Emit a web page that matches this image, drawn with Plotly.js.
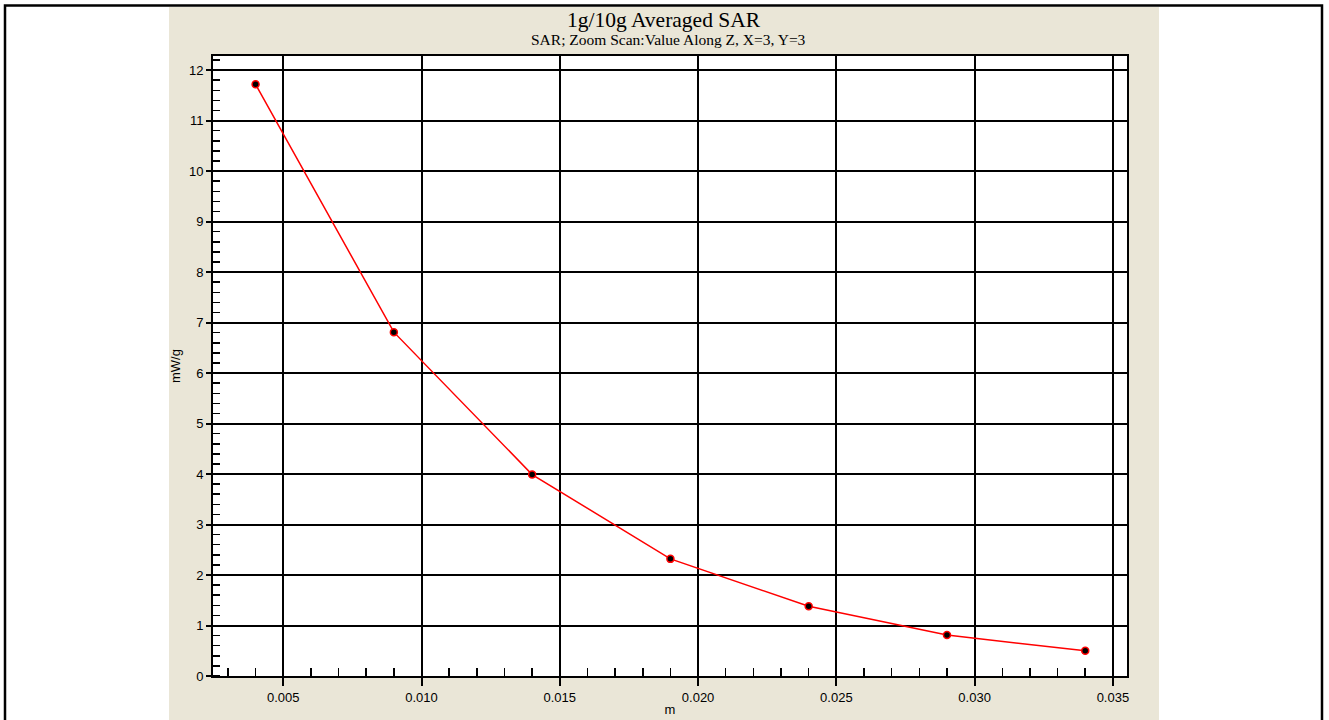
<!DOCTYPE html>
<html>
<head>
<meta charset="utf-8">
<script src="https://cdn.plot.ly/plotly-3.0.1.min.js"></script>
<style>html,body{margin:0;padding:0;background:#fff;}#chart{width:1329px;height:720px;}</style>
</head>
<body>
<div id="chart"></div>
<script>
const depth = [0.004, 0.009, 0.014, 0.019, 0.024, 0.029, 0.034];
const sar = [11.72, 6.81, 3.99, 2.32, 1.38, 0.81, 0.50];
const xTickVals = [0.005, 0.010, 0.015, 0.020, 0.025, 0.030, 0.035];
const xTickText = ['0.005', '0.010', '0.015', '0.020', '0.025', '0.030', '0.035'];
const yTickVals = [0, 1, 2, 3, 4, 5, 6, 7, 8, 9, 10, 11, 12];
const chartTitle = '1g/10g Averaged SAR';
const chartSubtitle = 'SAR; Zoom Scan:Value Along Z, X=3, Y=3';
const xLabel = 'm';
const yLabel = 'mW/g';

const trace = {
  x: depth, y: sar, type: 'scatter', mode: 'lines+markers',
  line: {color: '#ff0000', width: 1.5},
  marker: {color: '#000000', size: 7, line: {color: '#ff0000', width: 1.5}},
  hoverinfo: 'skip', showlegend: false
};

const tickFont = {family: 'Liberation Sans, Arial, sans-serif', size: 13, color: '#000'};
const serif = 'Liberation Serif, Times New Roman, serif';

const layout = {
  width: 1329, height: 720,
  margin: {l: 213, r: 202, t: 56, b: 44},
  paper_bgcolor: '#eae6d7', plot_bgcolor: '#ffffff',
  xaxis: {
    range: [0.00246, 0.03551],
    tickvals: xTickVals, ticktext: xTickText,
    ticks: 'outside', ticklen: 8, tickwidth: 2, tickcolor: '#000',
    showgrid: true, gridcolor: '#000', gridwidth: 2,
    showline: true, linecolor: '#000', linewidth: 2, mirror: true,
    zeroline: false,
    tickfont: tickFont,
    minor: {ticks: 'inside', ticklen: 8, tickwidth: 1.5, tickcolor: '#000', dtick: 0.001, tick0: 0, showgrid: false},
    title: {text: xLabel, font: tickFont, standoff: 1}
  },
  yaxis: {
    range: [0, 12.28],
    tickvals: yTickVals,
    ticks: 'outside', ticklen: 5, tickwidth: 2, tickcolor: '#000',
    showgrid: true, gridcolor: '#000', gridwidth: 2,
    showline: true, linecolor: '#000', linewidth: 2, mirror: true,
    zeroline: false,
    tickfont: tickFont,
    minor: {ticks: 'inside', ticklen: 7, tickwidth: 1.5, tickcolor: '#000', dtick: 0.2, tick0: 0, showgrid: false},
    title: {text: yLabel, font: tickFont, standoff: 5}
  },
  annotations: [
    {text: chartTitle, xref: 'paper', yref: 'paper', x: (664-213)/914, y: (676-20)/620,
     xanchor: 'center', yanchor: 'middle', showarrow: false,
     font: {family: serif, size: 21.5, color: '#000'}},
    {text: chartSubtitle, xref: 'paper', yref: 'paper', x: (668-213)/914, y: (676-40)/620,
     xanchor: 'center', yanchor: 'middle', showarrow: false,
     font: {family: serif, size: 15.5, color: '#000'}}
  ],
  shapes: [
    {type: 'rect', xref: 'paper', yref: 'paper', layer: 'below',
     x0: (-10-213)/914, x1: (169-213)/914, y0: (676-740)/620, y1: (676+20)/620,
     fillcolor: '#ffffff', line: {width: 0}},
    {type: 'rect', xref: 'paper', yref: 'paper', layer: 'below',
     x0: (1159-213)/914, x1: (1340-213)/914, y0: (676-740)/620, y1: (676+20)/620,
     fillcolor: '#ffffff', line: {width: 0}},
    {type: 'rect', xref: 'paper', yref: 'paper', layer: 'below',
     x0: (-10-213)/914, x1: (1340-213)/914, y0: (676-7)/620, y1: (676+20)/620,
     fillcolor: '#ffffff', line: {width: 0}},
    {type: 'rect', xref: 'paper', yref: 'paper', layer: 'above',
     x0: (5-213)/914, x1: (1322-213)/914, y0: (676-740)/620, y1: (676-5.5)/620,
     fillcolor: 'rgba(0,0,0,0)', line: {color: '#000', width: 2.5}}
  ]
};

Plotly.newPlot('chart', [trace], layout, {staticPlot: true, displayModeBar: false});
</script>
</body>
</html>
